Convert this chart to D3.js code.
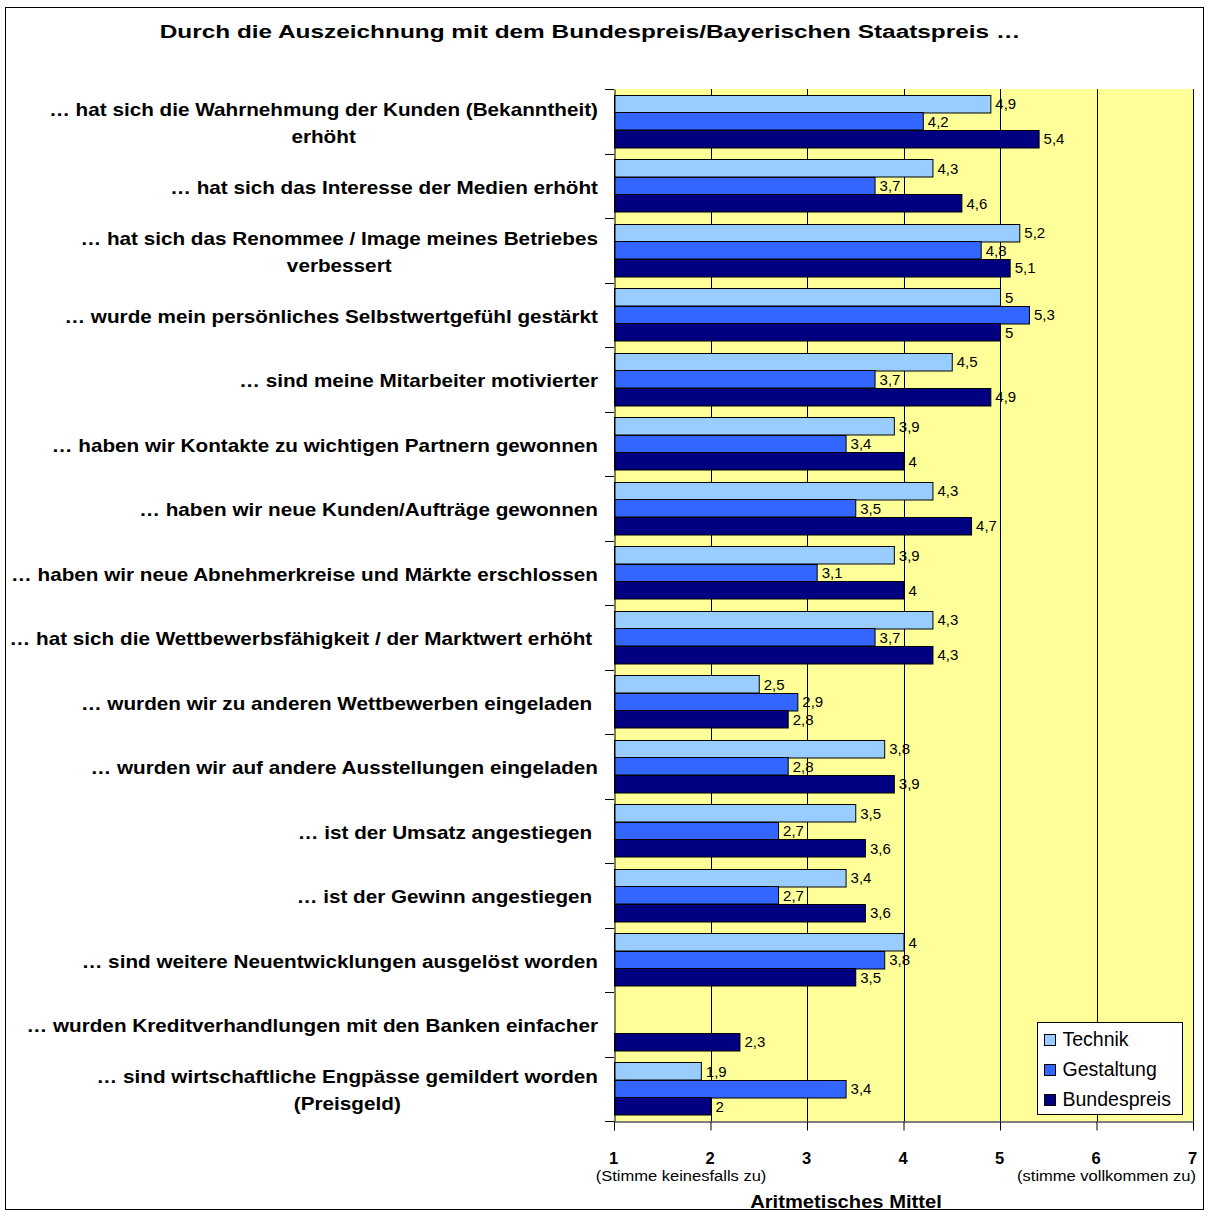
<!DOCTYPE html>
<html>
<head>
<meta charset="utf-8">
<script src="https://cdn.jsdelivr.net/npm/d3@7"></script>
<style>
  body { margin: 0; background: #fff; }
  text { font-family: Arial, "Liberation Sans", sans-serif; }
</style>
</head>
<body>
<div id="chart"></div>
<script>
// Chart data
var categories = [
  ["… hat sich die Wahrnehmung der Kunden (Bekanntheit)", "erhöht"],
  ["… hat sich das Interesse der Medien erhöht"],
  ["… hat sich das Renommee / Image meines Betriebes", "verbessert"],
  ["… wurde mein persönliches Selbstwertgefühl gestärkt"],
  ["… sind meine Mitarbeiter motivierter"],
  ["… haben wir Kontakte zu wichtigen Partnern gewonnen"],
  ["… haben wir neue Kunden/Aufträge gewonnen"],
  ["… haben wir neue Abnehmerkreise und Märkte erschlossen"],
  ["… hat sich die Wettbewerbsfähigkeit / der Marktwert erhöht "],
  ["… wurden wir zu anderen Wettbewerben eingeladen "],
  ["… wurden wir auf andere Ausstellungen eingeladen"],
  ["… ist der Umsatz angestiegen "],
  ["… ist der Gewinn angestiegen "],
  ["… sind weitere Neuentwicklungen ausgelöst worden"],
  ["… wurden Kreditverhandlungen mit den Banken einfacher"],
  ["… sind wirtschaftliche Engpässe gemildert worden", "(Preisgeld)"]
];
var seriesNames = ["Technik", "Gestaltung", "Bundespreis"];
var technik     = [4.9, 4.3, 5.2, 5, 4.5, 3.9, 4.3, 3.9, 4.3, 2.5, 3.8, 3.5, 3.4, 4, null, 1.9];
var gestaltung  = [4.2, 3.7, 4.8, 5.3, 3.7, 3.4, 3.5, 3.1, 3.7, 2.9, 2.8, 2.7, 2.7, 3.8, null, 3.4];
var bundespreis = [5.4, 4.6, 5.1, 5, 4.9, 4, 4.7, 4, 4.3, 2.8, 3.9, 3.6, 3.6, 3.5, 2.3, 2];
var xTicks = [1, 2, 3, 4, 5, 6, 7];
var xSubLabels = {1: "(Stimme keinesfalls zu)", 6: "(stimme vollkommen zu)"};
var colors = ["#99CCFF", "#3366FF", "#000080"];

var svgWidth = 1205;
var svgHeight = 1211;
var plot = {left: 614, right: 1193, top: 89, bottom: 1121};

var svg = d3.select("#chart")
  .append("svg")
  .attr("width", svgWidth)
  .attr("height", svgHeight);

// helper: text stretched horizontally around its anchor point
function wideText(parent, px, py, sx, txt) {
  return parent.append("g")
    .attr("transform", "translate(" + px + "," + py + ") scale(" + sx + ",1)")
    .append("text").text(txt);
}

// outer frame
svg.append("rect")
  .attr("x", 5.5).attr("y", 7.5)
  .attr("width", 1198).attr("height", 1202)
  .attr("fill", "#fff").attr("stroke", "#000").attr("stroke-width", 1);

wideText(svg, 590, 38, 1.27, "Durch die Auszeichnung mit dem Bundespreis/Bayerischen Staatspreis …")
  .attr("text-anchor", "middle")
  .attr("font-size", 19.2).attr("font-weight", "bold");

var x = d3.scaleLinear().domain([1, 7]).range([plot.left, plot.right]);
var y = d3.scaleBand()
  .domain(d3.range(categories.length))
  .range([plot.top, plot.bottom]);
var ySub = d3.scaleBand()
  .domain(d3.range(3))
  .range([5.5, y.bandwidth() - 6.5]);

// plot background
svg.append("rect")
  .attr("x", plot.left).attr("y", plot.top)
  .attr("width", plot.right - plot.left).attr("height", plot.bottom - plot.top)
  .attr("fill", "#FFFF99");

// vertical gridlines
svg.append("g")
  .selectAll("line")
  .data(xTicks.slice(1))
  .enter().append("line")
  .attr("x1", d => Math.round(x(d)) + 0.5).attr("x2", d => Math.round(x(d)) + 0.5)
  .attr("y1", plot.top).attr("y2", plot.bottom)
  .attr("stroke", "#000").attr("stroke-width", 1);

// bars
var series = [technik, gestaltung, bundespreis];
series.forEach(function(vals, s) {
  var data = vals.map((v, i) => ({v: v, i: i})).filter(d => d.v != null);
  svg.append("g").selectAll("rect")
    .data(data)
    .enter().append("rect")
    .attr("x", x(1) + 0.5)
    .attr("y", d => Math.round(y(d.i) + ySub(s)) + 0.5)
    .attr("width", d => x(d.v) - x(1))
    .attr("height", ySub.bandwidth())
    .attr("fill", colors[s])
    .attr("stroke", "#000").attr("stroke-width", 1);

  svg.append("g").selectAll("text")
    .data(data)
    .enter().append("text")
    .attr("x", d => x(d.v) + 5)
    .attr("y", d => y(d.i) + ySub(s) + ySub.bandwidth() / 2 + 6)
    .attr("font-size", 15)
    .text(d => String(d.v).replace(".", ","));
});

// left axis
var leftAxis = d3.axisLeft(y).tickSize(0).tickFormat("");
svg.append("g")
  .attr("transform", "translate(" + (plot.left + 0.5) + ",0)")
  .call(leftAxis)
  .call(g => g.select(".domain").attr("stroke", "#000"));
svg.append("g").selectAll("line")
  .data(d3.range(categories.length + 1))
  .enter().append("line")
  .attr("x1", plot.left - 9).attr("x2", plot.left)
  .attr("y1", d => Math.round(plot.top + d * y.step()) + 0.5)
  .attr("y2", d => Math.round(plot.top + d * y.step()) + 0.5)
  .attr("stroke", "#000");

// bottom axis
var bottomAxis = d3.axisBottom(x).tickValues(xTicks).tickSize(9).tickPadding(22).tickFormat(d3.format("d"));
var gx = svg.append("g")
  .attr("transform", "translate(0," + (plot.bottom + 0.5) + ")")
  .call(bottomAxis);
gx.select(".domain").attr("stroke", "#000");
gx.selectAll(".tick line").attr("stroke", "#000");
gx.selectAll(".tick text")
  .attr("font-size", 16.5).attr("font-weight", "bold")
  .attr("font-family", "Arial, 'Liberation Sans', sans-serif")
  .attr("fill", "#000")
  .attr("dx", -1);

var subG = svg.append("g");
Object.keys(xSubLabels).map(Number).forEach(function(d) {
  wideText(subG, d === 1 ? x(1) + 67 : x(6) + 10, plot.bottom + 60, 1.14, xSubLabels[d])
    .attr("text-anchor", "middle")
    .attr("font-size", 14.5);
});

wideText(svg, 846, 1208, 1.14, "Aritmetisches Mittel")
  .attr("text-anchor", "middle")
  .attr("font-size", 17.7).attr("font-weight", "bold");

// category labels: block right-aligned, lines centred within block
var labelRight = 598;
var labelSx = 1.17;
categories.forEach(function(lines, i) {
  var cy = y(i) + y.bandwidth() / 2;
  var lh = 27;
  var g = svg.append("g")
    .attr("transform", "translate(" + labelRight + ",0) scale(" + labelSx + ",1)");
  var texts = g.selectAll("text")
    .data(lines)
    .enter().append("text")
    .attr("font-size", 17.7).attr("font-weight", "bold")
    .attr("text-anchor", "middle")
    .style("white-space", "pre")
    .attr("y", (d, k) => cy + 8 + (k - (lines.length - 1) / 2) * lh)
    .text(d => d);
  var widths = [];
  texts.each(function() { widths.push(this.getComputedTextLength()); });
  var w = d3.max(widths);
  texts.attr("x", -w / 2);
});

// legend
var legend = svg.append("g").attr("transform", "translate(1037.5,1022.5)");
legend.append("rect")
  .attr("width", 145).attr("height", 92)
  .attr("fill", "#fff").attr("stroke", "#000");
seriesNames.forEach(function(name, s) {
  legend.append("rect")
    .attr("x", 7).attr("y", 12 + s * 30)
    .attr("width", 11).attr("height", 11)
    .attr("fill", colors[s]).attr("stroke", "#000");
  legend.append("text")
    .attr("x", 25).attr("y", 23 + s * 30)
    .attr("font-size", 19.5)
    .text(name);
});
</script>
</body>
</html>
